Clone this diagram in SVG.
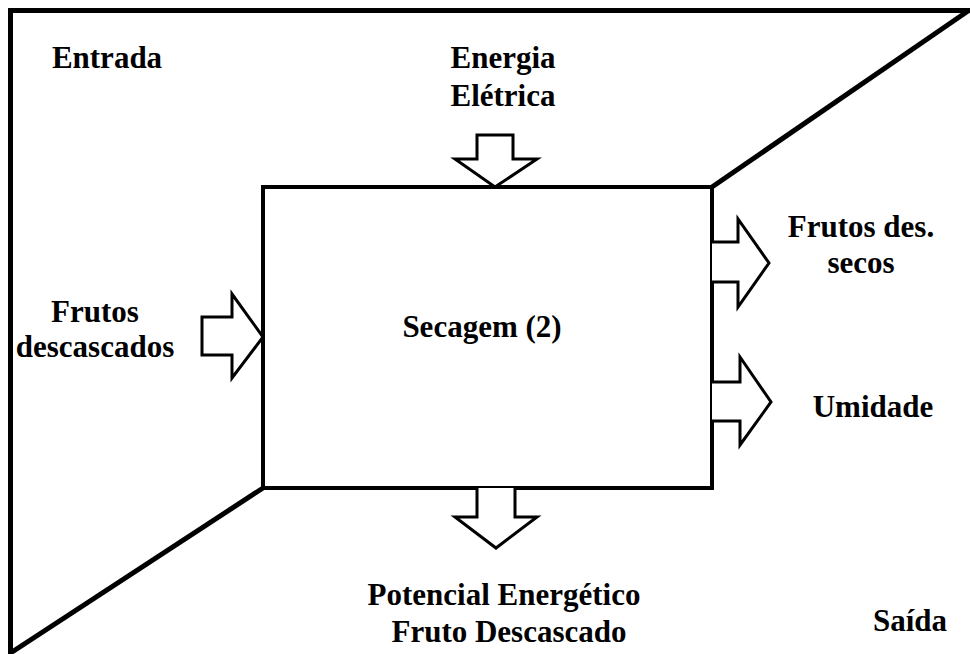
<svg xmlns="http://www.w3.org/2000/svg" width="970" height="654" viewBox="0 0 970 654">
<style>
.t{font-family:"Liberation Serif","Times New Roman",serif;font-weight:bold;font-size:31px;fill:#000;text-anchor:middle}
.frame{fill:none;stroke:#000;stroke-width:5}
.box{fill:#fff;stroke:#000;stroke-width:4}
.arr{fill:#fff;stroke:#000;stroke-width:3;stroke-linejoin:miter}
</style>
<rect width="970" height="654" fill="#fff"/>
<g id="frame">
<polyline class="frame" points="10.5,654 10.5,10.5 970,10.5"/>
<line class="frame" x1="968" y1="11" x2="712" y2="187"/>
<line class="frame" x1="263" y1="488" x2="12" y2="652"/>
</g>
<g id="secagem">
<rect class="box" x="263" y="187" width="449" height="301"/>
<text class="t" x="482" y="337">Secagem (2)</text>
</g>
<g id="connectors">
<polygon class="arr" points="477,135 513,135 513,159 537,159 495,187 455,159 477,159"/>
<polygon class="arr" points="202,317 232,317 232,294 263,337 232,378 232,355 202,355"/>
<polyline class="arr" points="712,242 738,242 738,219 769,263 738,307 738,282 712,282"/>
<polyline class="arr" points="712,382 740,382 740,357 771,402 740,445 740,421 712,421"/>
<polyline class="arr" points="477,488 477,517 455,517 496,548 537,517 515,517 515,488"/>
</g>
<g id="entrada"><text class="t" x="107" y="68">Entrada</text></g>
<g id="energia"><text class="t" x="503" y="68">Energia</text><text class="t" x="503" y="106">Elétrica</text></g>
<g id="frutos"><text class="t" x="95" y="322">Frutos</text><text class="t" x="95" y="357">descascados</text></g>
<g id="frutos-secos"><text class="t" x="861" y="237">Frutos des.</text><text class="t" x="861" y="273">secos</text></g>
<g id="umidade"><text class="t" x="873" y="417">Umidade</text></g>
<g id="potencial"><text class="t" x="504" y="605">Potencial Energético</text><text class="t" x="509" y="642">Fruto Descascado</text></g>
<g id="saida"><text class="t" x="910" y="631">Saída</text></g>
</svg>
